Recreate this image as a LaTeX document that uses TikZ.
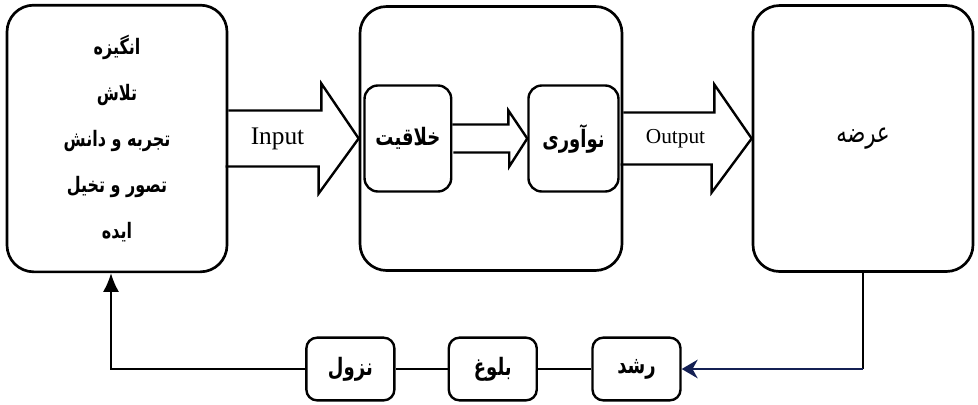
\documentclass[tikz,border=0pt]{standalone}
\usepackage{fontspec}
\setmainfont{Liberation Serif}
\newfontfamily\fa[Script=Arabic, FakeStretch=0.75]{DejaVu Sans}
\TeXXeTstate=1
\usepackage{xcolor}
\usetikzlibrary{calc, positioning, arrows.meta}
\definecolor{navy}{RGB}{20,32,84}
\newcommand{\rtltext}[1]{\beginR #1\endR}
\tikzset{
    block/.style={rectangle, draw=black, line width=2pt, rounded corners=20pt, fill=white, align=center, font=\fa\bfseries\fontsize{16}{34.5}\selectfont},
    inner/.style={rectangle, draw=black, line width=1.8pt, rounded corners=10pt, fill=white, align=center, minimum height=79.5pt, font=\fa\bfseries\fontsize{18}{20}\selectfont},
    stage/.style={rectangle, draw=black, line width=1.8pt, rounded corners=8pt, fill=white, align=center, minimum width=66pt, minimum height=47pt, font=\fa\bfseries\fontsize{18}{20}\selectfont},
    fat/.style={draw=black, line width=1.8pt, line join=miter},
    lbl/.style={font=\fontsize{16}{18}\selectfont, inner sep=0pt},
    link/.style={line width=1.5pt}
}
\begin{document}
\begin{tikzpicture}[x=0.75pt, y=-0.75pt, node distance=42pt]
    \useasboundingbox (0,0) rectangle (978,404);

    % Main stages
    \node[block, minimum width=165pt, minimum height=200pt] (Source) at (117,138.5) {\rtltext{انگیزه}\\\rtltext{تلاش}\\\rtltext{تجربه و دانش}\\\rtltext{تصور و تخیل}\\\rtltext{ایده}};
    \node[block, minimum width=196.5pt, minimum height=198pt, right=97.75pt of Source] (Process) {};
    \node[block, minimum width=165pt, minimum height=199.5pt, right=96.25pt of Process, font=\fa\fontsize{21}{24}\selectfont] (Supply) {\rtltext{عرضه}};

    % Inner steps
    \node[inner, minimum width=65pt, right=3.5pt of Process.west] (Creativity) {\rtltext{خلاقیت}};
    \node[inner, minimum width=67.5pt, left=2.75pt of Process.east] (Innovation) {\rtltext{نوآوری}};

    % Block arrows
    \draw[fat] (Source.east) ++(0,-28) -- ++(93,0) -- ++(0,-27) -- (Process.west) -- ++(-40,55) -- ++(0,-27) -- ++(-93,0);
    \draw[fat] (Creativity.east) ++(0,-14) -- ++(56,0) -- ++(0,-14) -- (Innovation.west) -- ++(-18,28) -- ++(0,-14) -- ++(-56,0);
    \draw[fat] (Process.east) ++(0,-26) -- ++(91,0) -- ++(0,-28) -- (Supply.west) -- ++(-40,54) -- ++(0,-28) -- ++(-91,0);
    \node[lbl, font=\fontsize{19}{20}\selectfont] (InLbl) at ([xshift=-12pt]$(Source.east)!.5!(Process.west)$) {Input};
    \node[lbl] (OutLbl) at ([xshift=-9pt]$(Process.east)!.5!(Supply.west)$) {Output};

    % Life cycle
    \node[stage] (Growth) at (636.5,369) {\rtltext{رشد}};
    \node[stage, left=40pt of Growth] (Maturity) {\rtltext{بلوغ}};
    \node[stage, left=39pt of Maturity] (Decline) {\rtltext{نزول}};

    % Connections
    \coordinate (Turn) at (Supply.south |- Growth.east);
    \coordinate (Back) at (111,369);
    \draw[link] (Supply.south) -- (Turn);
    \draw[link, draw=navy, -{Stealth[length=12pt, width=14pt]}] (Turn) -- (Growth.east);
    \draw[link] (Growth) -- (Maturity);
    \draw[link] (Maturity) -- (Decline);
    \draw[link, -{Latex[length=14pt, width=12pt]}] (Decline.west) -- (Back) -- (Back |- Source.south);

\end{tikzpicture}
\end{document}
